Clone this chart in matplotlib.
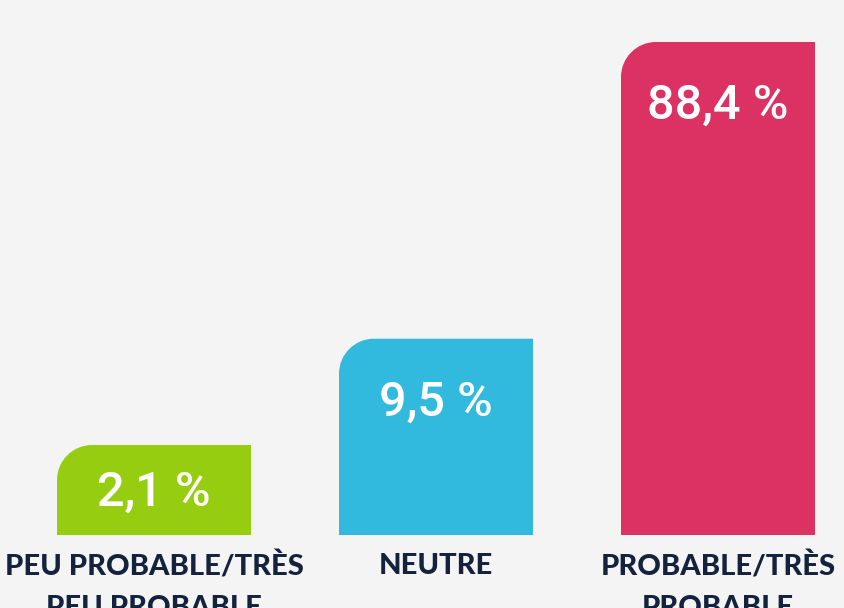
import numpy as np
import matplotlib
matplotlib.use("Agg")
import matplotlib.pyplot as plt
from matplotlib.path import Path
from matplotlib.patches import PathPatch
from matplotlib.transforms import IdentityTransform, blended_transform_factory

categories = ["PEU PROBABLE/TRÈS\nPEU PROBABLE", "NEUTRE", "PROBABLE/TRÈS\nPROBABLE"]
values = [2.1, 9.5, 88.4]
value_labels = ["2,1 %", "9,5 %", "88,4 %"]
colors = ["#97cd11", "#31badd", "#dc3163"]

bg = "#f4f4f4"
navy = "#14223e"

fig = plt.figure(figsize=(8.44, 6.08), dpi=100, facecolor=bg)
ax = fig.add_axes([0, 73 / 608, 1, 493 / 608])
ax.set_facecolor(bg)

# bars are drawn on a cube-root scale, like the source picture
ax.set_yscale("function", functions=(np.cbrt, lambda v: np.power(v, 3)))
ax.set_ylim(0.187, max(values))
ax.set_xlim(-154 / 282, (844 - 154) / 282)
for s in ax.spines.values():
    s.set_visible(False)
ax.set_xticks([])
ax.set_yticks([])
ax.minorticks_off()

x = np.arange(len(values))
bars = ax.bar(x, values, width=194 / 282, color=colors)

fig.canvas.draw()
ax_bottom = ax.transAxes.transform((0, 0))[1]
r = 35
k = 0.5523
for i, rect in enumerate(bars):
    rect.set_visible(False)
    x0 = ax.transData.transform((rect.get_x(), 1))[0]
    x1, y1 = ax.transData.transform((rect.get_x() + rect.get_width(), rect.get_height()))
    y0 = ax_bottom
    verts = [(x0, y0), (x0, y1 - r), (x0, y1 - r + k * r), (x0 + r - k * r, y1),
             (x0 + r, y1), (x1, y1), (x1, y0), (x0, y0)]
    codes = [Path.MOVETO, Path.LINETO, Path.CURVE4, Path.CURVE4, Path.CURVE4,
             Path.LINETO, Path.LINETO, Path.CLOSEPOLY]
    fig.patches.append(PathPatch(Path(verts, codes), facecolor=colors[i], edgecolor="none",
                                 transform=IdentityTransform(), figure=fig))

    # value label: about 64 px under the top, or centred in short bars
    cx = (x0 + x1) / 2
    ty = max(y1 - 64, (y1 + y0) / 2 - 3)
    fig.text(cx / 844, ty / 608, value_labels[i],
             ha="center", va="center", color="white", fontsize=35,
             fontfamily="Roboto", fontweight="medium")

trans = blended_transform_factory(ax.transData, ax.transAxes)
for i, cat in enumerate(categories):
    ax.text(i, -0.036, cat, transform=trans, ha="center", va="top",
            color=navy, fontsize=21, fontfamily="Lato", fontweight="black",
            linespacing=1.7, clip_on=False)

fig.savefig("out.png", dpi=100, facecolor=bg)
